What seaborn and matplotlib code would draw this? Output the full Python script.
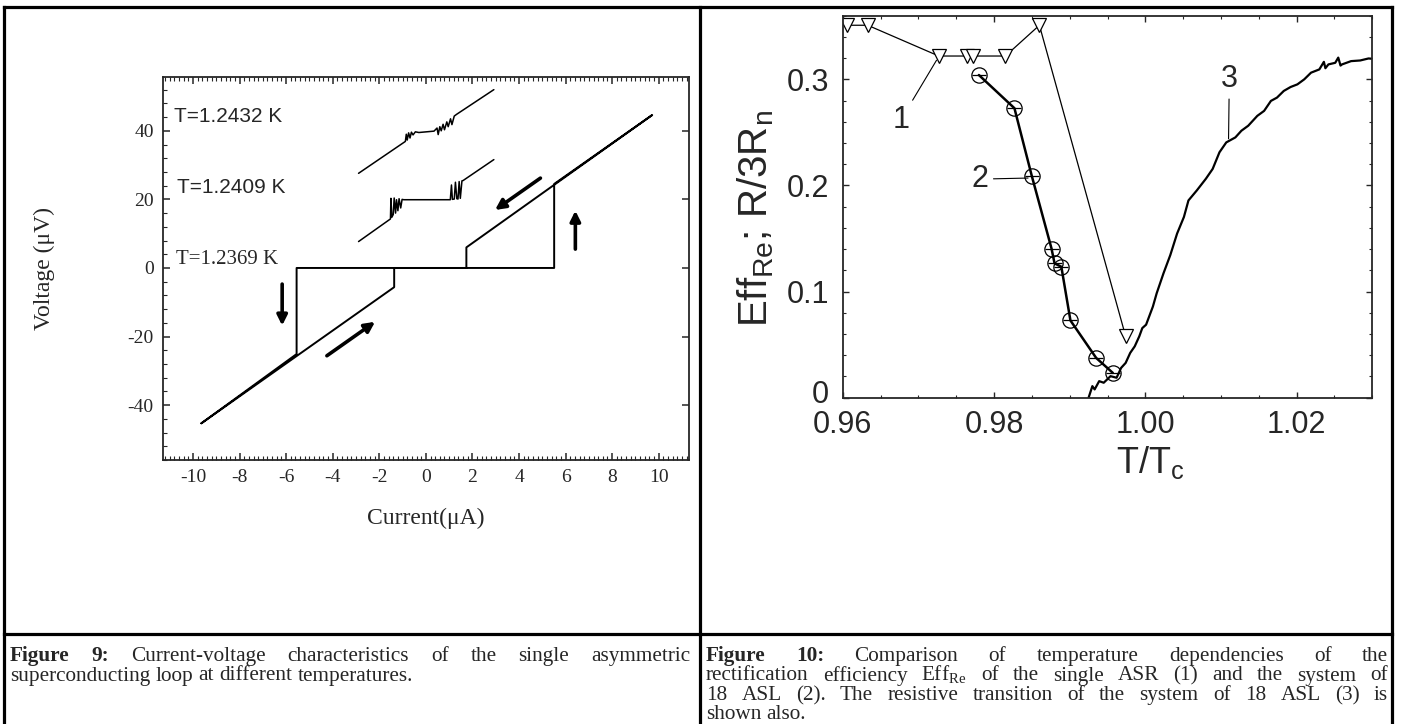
import matplotlib
matplotlib.use('Agg')
import matplotlib.pyplot as plt
import seaborn as sns
from matplotlib.ticker import MultipleLocator, FixedLocator, FuncFormatter
from matplotlib.lines import Line2D
from matplotlib.transforms import Affine2D, ScaledTranslation

# ---------------- data : Figure 9 (I-V curves) ----------------
# T = 1.2369 K hysteretic loop (current in uA, voltage in uV)
loop_I = [-9.64, -1.36, -1.36, 5.51, 5.51, 9.72, 1.74, 1.74, -5.55, -5.55, -9.64]
loop_V = [-45.3, -5.6, 0.0, 0.0, 24.5, 44.6, 6.0, 0.0, 0.0, -25.1, -45.3]
# T = 1.2409 K (shifted by +20 uV)
t2409_I = [-2.89, -1.52, -1.50, -1.46, -1.40, -1.36, -1.30, -1.26, -1.20, -1.15, -1.08, -1.02,
           -0.95, 1.05, 1.10, 1.14, 1.22, 1.27, 1.33, 1.38, 1.43, 1.48, 1.55, 1.60, 2.92]
t2409_V = [7.7, 14.3, 20.3, 14.8, 15.6, 20.4, 16.0, 19.9, 16.7, 20.2, 17.5, 20.0,
           19.9, 19.9, 24.2, 20.0, 20.1, 25.0, 20.2, 20.1, 25.2, 20.3, 25.4, 25.5, 31.6]
# T = 1.2432 K (shifted by +40 uV)
t2432_I = [-2.89, -0.88, -0.84, -0.80, -0.74, -0.68, -0.62, -0.55, -0.45, -0.30, 0.35, 0.48,
           0.53, 0.60, 0.66, 0.74, 0.80, 0.90, 0.96, 1.06, 1.12, 1.22, 1.32, 2.92]
t2432_V = [27.6, 36.9, 39.0, 37.3, 39.4, 37.9, 39.6, 38.8, 39.7, 39.5, 39.9, 40.8,
           38.9, 41.2, 40.0, 41.9, 40.3, 42.6, 41.2, 43.5, 41.8, 44.3, 44.8, 52.0]
temp_labels = ['T=1.2432 K', 'T=1.2409 K', 'T=1.2369 K']
temp_label_pos = [(-10.82, 44.2), (-10.67, 23.5), (-10.72, 2.4)]
# sweep-direction arrows (tail -> head)
arrows = [((-6.17, -4.7), (-6.17, -16.8)), ((6.42, 5.5), (6.42, 16.7)),
          ((-4.25, -25.6), (-2.18, -15.7)), ((4.92, 26.2), (2.97, 16.9))]

# ---------------- data : Figure 10 ----------------
T1 = [0.955, 0.9606, 0.9633, 0.9727, 0.9764, 0.9772, 0.9815, 0.9860, 0.9974]
E1 = [0.351, 0.351, 0.351, 0.322, 0.322, 0.322, 0.322, 0.351, 0.0578]
T2 = [0.9780, 0.9827, 0.9850, 0.9876, 0.9880, 0.9889, 0.9901, 0.9935, 0.9957]
E2 = [0.3041, 0.2728, 0.2088, 0.1406, 0.1266, 0.1234, 0.0728, 0.0375, 0.0234]
T3 = [0.9925, 0.9930, 0.9933, 0.9939, 0.9945, 0.9954, 0.9962, 0.9968, 0.9974, 0.9980,
      0.9986, 0.9992, 0.9996, 1.0001, 1.0010, 1.0015, 1.0024, 1.0033, 1.0042, 1.0051,
      1.0057, 1.0068, 1.0080, 1.0089, 1.0098, 1.0107, 1.0119, 1.0127, 1.0136, 1.0148,
      1.0157, 1.0166, 1.0174, 1.0183, 1.0192, 1.0201, 1.0210, 1.0219, 1.0230, 1.0236,
      1.0238, 1.0242, 1.0251, 1.0255, 1.0258, 1.0260, 1.0272, 1.0284, 1.0295, 1.0310]
R3 = [0.0, 0.0109, 0.0078, 0.0156, 0.0141, 0.0203, 0.0188, 0.0281, 0.0328, 0.0422,
      0.0484, 0.0578, 0.0656, 0.0688, 0.0859, 0.0984, 0.1172, 0.1344, 0.1547, 0.1703,
      0.1859, 0.1953, 0.2063, 0.2156, 0.2313, 0.2406, 0.2453, 0.2516, 0.2563, 0.2656,
      0.2703, 0.2797, 0.2828, 0.2891, 0.2928, 0.2953, 0.3000, 0.3063, 0.3094, 0.3165,
      0.3105, 0.3141, 0.3156, 0.3205, 0.3130, 0.3141, 0.3172, 0.3178, 0.3197, 0.3188]
curve_labels = ['1', '2', '3']
curve_label_text = [(0.9677, 0.262), (0.9782, 0.206), (1.0111, 0.300)]
curve_label_tip = [(0.9724, 0.318), (0.9845, 0.207), (1.0110, 0.244)]

# ---------------- captions ----------------
cap_left = [
    [("Figure", True), ("9:", True), ("Current-voltage", False), ("characteristics", False),
     ("of", False), ("the", False), ("single", False), ("asymmetric", False)],
    [(w, False) for w in "superconducting loop at different temperatures.".split()],
]
cap_right = [
    [("Figure", True), ("10:", True)] + [(w, False) for w in
     "Comparison of temperature dependencies of the".split()],
    [(w, False) for w in ["rectification", "efficiency", r"Eff$_{\mathregular{Re}}$", "of", "the",
                          "single", "ASR", "(1)", "and", "the", "system", "of"]],
    [(w, False) for w in "18 ASL (2). The resistive transition of the system of 18 ASL (3) is".split()],
    [(w, False) for w in "shown also.".split()],
]

# ---------------- figure ----------------
W, H = 1401, 724
sns.set_style('ticks')
plt.rcParams['axes.unicode_minus'] = False
plt.rcParams['font.family'] = ['Liberation Serif', 'DejaVu Sans']

fig = plt.figure(figsize=(W / 100, H / 100), dpi=100)
px = Affine2D().scale(1 / W, -1 / H).translate(0, 1) + fig.transFigure

# table frame
for (x0, y0, x1, y1) in [(4, 7, 1392, 7), (4, 7, 4, 724), (1392, 7, 1392, 724),
                         (700, 7, 700, 724), (4, 634, 1392, 634)]:
    fig.add_artist(Line2D([x0, x1], [y0, y1], transform=px, color='black', lw=2.3,
                          solid_capstyle='projecting'))

# ---- left panel ----
ax1 = fig.add_axes([162.7 / W, 1 - 460 / H, (689 - 162.7) / W, (460 - 77.3) / H])
sns.lineplot(x=loop_I, y=loop_V, sort=False, estimator=None, color='black', lw=1.4, ax=ax1)
sns.lineplot(x=t2409_I, y=t2409_V, sort=False, estimator=None, color='black', lw=1.1, ax=ax1)
sns.lineplot(x=t2432_I, y=t2432_V, sort=False, estimator=None, color='black', lw=1.1, ax=ax1)
ax1.set_xlim(-11.3, 11.3)
ax1.set_ylim(-56, 55.6)
ax1.xaxis.set_major_locator(MultipleLocator(2))
ax1.xaxis.set_minor_locator(MultipleLocator(0.2))
ax1.yaxis.set_major_locator(MultipleLocator(20))
ax1.yaxis.set_minor_locator(MultipleLocator(4))
ax1.tick_params(which='major', direction='in', length=5, width=1.1, top=True, right=True,
                labelsize=14, pad=6.5, labelfontfamily='Liberation Serif')
ax1.tick_params(which='minor', direction='in', length=2.6, width=0.8, top=True, right=False)
for s in ax1.spines.values():
    s.set_linewidth(1.3)
ax1.set_xlabel('Current(μA)', fontsize=17, family='Liberation Serif', va='center')
ax1.xaxis.set_label_coords(0.5, -0.152)
ax1.set_ylabel('Voltage (μV)', fontsize=17, family='Liberation Serif', va='center')
ax1.yaxis.set_label_coords(-0.225, 0.5)
for lab, (x, y) in zip(temp_labels, temp_label_pos):
    fam = 'Liberation Serif' if lab.endswith('69 K') else 'Liberation Sans'
    ax1.text(x, y, lab, fontsize=15, family=fam, ha='left', va='center')
for (tail, head) in arrows:
    ax1.annotate('', xy=head, xytext=tail,
                 arrowprops=dict(arrowstyle='-|>', lw=2.6, color='black', mutation_scale=15,
                                 shrinkA=0, shrinkB=0))

# ---- right panel ----
ax2 = fig.add_axes([842.7 / W, 1 - 397.7 / H, (1372.3 - 842.7) / W, (397.7 - 15.7) / H])
sns.lineplot(x=T3, y=R3, sort=False, estimator=None, color='black', lw=1.6, ax=ax2)
sns.lineplot(x=T1, y=E1, sort=False, estimator=None, color='black', lw=0.9, ax=ax2,
             marker='v', markersize=10, markerfacecolor='white', markeredgecolor='black',
             markeredgewidth=0.9)
sns.lineplot(x=T2, y=E2, sort=False, estimator=None, color='black', lw=1.8, ax=ax2,
             marker='o', markersize=11, markerfacecolor='none', markeredgecolor='black',
             markeredgewidth=0.9)
sns.scatterplot(x=T2, y=E2, marker='_', s=110, color='black', linewidth=0.9, ax=ax2)
ax2.set_xlim(0.96, 1.03)
ax2.set_ylim(0, 0.36)
ax2.xaxis.set_major_locator(FixedLocator([0.96, 0.98, 1.00, 1.02]))
ax2.xaxis.set_minor_locator(MultipleLocator(0.005))
ax2.yaxis.set_major_locator(FixedLocator([0, 0.1, 0.2, 0.3]))
ax2.yaxis.set_minor_locator(MultipleLocator(0.02))
ax2.xaxis.set_major_formatter(FuncFormatter(lambda v, p: f'{v:.2f}'))
ax2.yaxis.set_major_formatter(FuncFormatter(lambda v, p: '0' if abs(v) < 1e-9 else f'{v:.1f}'))
ax2.tick_params(which='major', direction='in', length=4, width=1.0, top=True, right=True,
                labelsize=22, labelfontfamily='Liberation Sans')
ax2.tick_params(axis='y', which='major', pad=10)
ax2.tick_params(axis='x', which='major', pad=9)
ax2.tick_params(which='minor', direction='in', length=2.2, width=0.8, top=True, right=True)
for s in ax2.spines.values():
    s.set_linewidth(1.3)
ax2.set_ylabel(r'Eff$_{\mathregular{Re}}$; R/3R$_{\mathregular{n}}$', fontsize=29,
               family='Liberation Sans', va='center')
ax2.yaxis.set_label_coords(-0.165, 0.47)
ax2.set_xlabel(r'T/T$_{\mathregular{c}}$', fontsize=26, family='Liberation Sans', va='center')
ax2.xaxis.set_label_coords(0.58, -0.17)
for lab, xyt, xy in zip(curve_labels, curve_label_text, curve_label_tip):
    ax2.annotate(lab, xy=xy, xytext=xyt, fontsize=22, family='Liberation Sans',
                 ha='center', va='center',
                 arrowprops=dict(arrowstyle='-', lw=0.8, color='black', shrinkA=1, shrinkB=0))

# lift the "0" y tick label slightly, as in the original
fig.canvas.draw()
zero_lbl = ax2.yaxis.get_major_ticks()[0].label1
zero_lbl.set_transform(zero_lbl.get_transform() + ScaledTranslation(0, 0.06, fig.dpi_scale_trans))

# ---- captions (justified) ----
CAP_FS = 15.3
renderer = fig.canvas.get_renderer()


def place_line(words, x0, x1, yb, justify):
    arts = [fig.text(0, 0, w, transform=px, fontsize=CAP_FS, family='Liberation Serif',
                     weight='bold' if b else 'normal', va='baseline', ha='left')
            for w, b in words]
    widths = [a.get_window_extent(renderer).width for a in arts]
    if justify and len(arts) > 1:
        gap = (x1 - x0 - sum(widths)) / (len(arts) - 1)
    else:
        gap = CAP_FS * 100 / 72 * 0.25
    x = x0
    for a, wd in zip(arts, widths):
        a.set_position((x, yb))
        x += wd + gap


baselines = [661, 680.5, 700, 719]
for i, line in enumerate(cap_left):
    place_line(line, 10, 690, baselines[i], justify=(i < len(cap_left) - 1))
for i, line in enumerate(cap_right):
    place_line(line, 706, 1388, baselines[i], justify=(i < len(cap_right) - 1))

fig.savefig('out.png', dpi=100)
